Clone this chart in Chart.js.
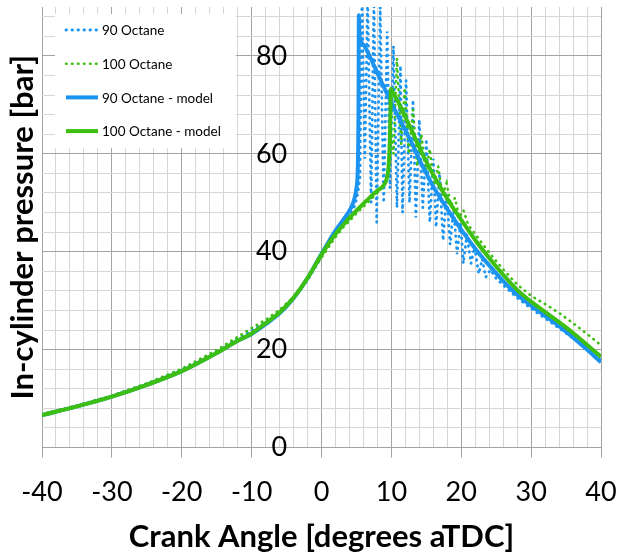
<!DOCTYPE html>
<html>
<head>
<meta charset="utf-8">
<script src="https://cdn.jsdelivr.net/npm/chart.js@4.4.1/dist/chart.umd.min.js"></script>
<style>
    body { margin: 0; background: #fff; }
    #wrap { width: 620px; height: 560px; }
</style>
</head>
<body>
<div id="wrap"><canvas id="PressureChart" width="620" height="560"></canvas></div>
<script>
// crank angle [deg aTDC] / pressure [bar]
var CrankModel90 = [-40,-35,-30,-25,-20,-15,-12,-10,-8,-6,-4,-2,0,1,2,3,4,4.6,5.0,5.2,5.3,5.35,5.45,6,7,8,9,10,11,12,13,14,15,16,17,18,19,20,22,24,26,28,30,32,34,36,38,40];
var PressModel90 = [6.6,8.4,10.4,12.8,15.6,19.3,21.8,23.2,25.2,27.4,30.5,34.6,39.6,42,44.3,46.3,48.4,50.3,53,57.5,70,88.3,84,82.3,79.6,76.5,73.4,70.4,67.6,64.8,62,58.8,56,53.3,51,48.7,46.6,44.5,40.6,37.2,34,31.2,29,26.9,24.8,22.5,20,17.4];

var CrankModel100 = [-40,-35,-30,-25,-20,-15,-12,-10,-8,-6,-4,-2,0,1,2,3,4,5,6,7,8,8.8,9.3,9.6,9.8,9.95,10.2,11,12,13,14,15,16,17,18,19,20,22,24,26,28,30,32,34,36,38,40];
var PressModel100 = [6.6,8.4,10.4,12.8,15.6,19.3,21.8,23.3,25.4,27.6,30.6,34.6,39.4,41.6,43.6,45.3,46.9,48.4,49.8,51.2,52.5,53.4,54.8,57.5,63.5,73.3,72.6,70.5,67.5,64.5,61.3,58.4,55.7,53.2,50.8,48.6,46.5,42.4,38.7,35.3,32.2,29.8,27.7,25.6,23.4,21,18.5];

var CrankExp90 = [-40,-35,-30,-25,-20,-15,-12,-10,-8,-6,-4,-2,0,1,2,3,4,4.8,5.2,5.5,5.8,6.2,6.6,7.1,7.5,7.9,8.4,8.9,9.4,9.8,10.3,10.8,11.3,11.6,12.1,12.6,13.1,13.5,14.0,14.5,15.0,15.5,16.0,16.4,16.9,17.4,17.9,18.4,18.9,19.4,19.9,20.3,20.8,21.4,21.9,22.5,23.0,23.5,24.2,25,26,28,30,32,34,36,38,40];
var PressExp90 = [6.7,8.5,10.5,13,15.9,19.6,22.2,23.8,25.6,27.8,30.6,34.2,39,41.5,43.8,45.6,47.5,49.5,52,55,92,59,92,50,92,46,90,50,85,53,82,49,78,48,75,50,71,47,67,49,63,46,59,45,56,42.3,52,41.5,49,39.5,46,37.6,43.5,37.6,41,35.5,38.5,34.8,36.3,34.5,33.2,30.6,28.4,26.4,24.4,22.3,20.1,17.8];

var CrankExp100 = [-40,-35,-30,-25,-20,-15,-12,-10,-8,-6,-4,-2,0,2,3,4,5,6,7,8,8.8,9.2,9.6,9.9,10.3,10.8,11.4,11.9,12.5,13.1,13.7,14.3,14.9,15.5,16.1,16.7,17.3,17.9,18.5,19.1,19.7,20.3,21,22,24,26,28,30,32,34,36,38,40];
var PressExp100 = [6.8,8.6,10.6,13.1,16.1,19.9,22.6,24.4,26.1,28.1,30.8,34.5,38.8,43,44.8,46.3,47.8,49.2,50.6,52,53.3,54.5,57,66,60,79.5,62,73.5,60,69,57.5,64,56,61,53.5,57.5,51.5,54,49.5,51,47,48.5,45.5,43.6,39.8,36.4,33.3,31,29.3,27.5,25.4,23.2,20.9];

var SeriesLabels = ['90 Octane', '100 Octane', '90 Octane - model', '100 Octane - model'];

var Blue = '#1b93f1';
var Green = '#3dbf12';
var GridMinor = '#d6d6d6';
var GridMajor = '#a3a3a3';
var FontName = 'Lato, Carlito, "Open Sans", sans-serif';

function toPoints(xs, ys) {
    var pts = [];
    for (var i = 0; i < xs.length; i++) {
        pts.push({ x: xs[i], y: ys[i] });
    }
    return pts;
}

// white box legend in the upper left corner of the plot
var boxLegend = {
    id: 'boxLegend',
    afterDraw(chart) {
        var ctx = chart.ctx;
        var area = chart.chartArea;
        var left = area.left + 13;
        var top = area.top + 7;
        ctx.save();
        ctx.fillStyle = '#fff';
        ctx.fillRect(left, top, 181, 134);
        chart.data.datasets.forEach(function (ds, i) {
            var y = top + 16 + i * 33.7;
            ctx.beginPath();
            ctx.strokeStyle = ds.borderColor;
            ctx.lineWidth = ds.borderWidth;
            ctx.lineCap = ds.borderCapStyle || 'butt';
            ctx.setLineDash(ds.borderDash || []);
            ctx.moveTo(left + 11, y);
            ctx.lineTo(left + 43, y);
            ctx.stroke();
            ctx.setLineDash([]);
            ctx.fillStyle = '#000';
            ctx.font = '13.5px ' + FontName;
            ctx.textBaseline = 'middle';
            ctx.textAlign = 'left';
            ctx.fillText(ds.label, left + 47, y + 1);
        });
        ctx.restore();
    }
};

// y axis title sits at the far left, away from the centred axis
var yTitle = {
    id: 'yTitle',
    afterDraw(chart) {
        var ctx = chart.ctx;
        var area = chart.chartArea;
        ctx.save();
        ctx.translate(23, (area.top + area.bottom) / 2);
        ctx.rotate(-Math.PI / 2);
        ctx.fillStyle = '#000';
        ctx.font = 'bold 31px ' + FontName;
        ctx.textAlign = 'center';
        ctx.textBaseline = 'middle';
        ctx.fillText('In-cylinder pressure [bar]', 0, 0);
        ctx.restore();
    }
};

var ChartData = {
    datasets: [{
        label: SeriesLabels[0],
        data: toPoints(CrankExp90, PressExp90),
        borderColor: Blue,
        borderWidth: 2.8,
        borderDash: [0.5, 5.5],
        borderCapStyle: 'round',
        tension: 0,
        order: 3
    }, {
        label: SeriesLabels[1],
        data: toPoints(CrankExp100, PressExp100),
        borderColor: Green,
        borderWidth: 2.6,
        borderDash: [0.5, 5.5],
        borderCapStyle: 'round',
        tension: 0,
        order: 2
    }, {
        label: SeriesLabels[2],
        data: toPoints(CrankModel90, PressModel90),
        borderColor: Blue,
        borderWidth: 4,
        cubicInterpolationMode: 'monotone',
        order: 1
    }, {
        label: SeriesLabels[3],
        data: toPoints(CrankModel100, PressModel100),
        borderColor: Green,
        borderWidth: 4,
        cubicInterpolationMode: 'monotone',
        order: 0
    }]
};

var PressureChart = new Chart(document.getElementById('PressureChart'), {
    type: 'line',
    data: ChartData,
    options: {
        responsive: false,
        animation: false,
        devicePixelRatio: 1,
        elements: { point: { radius: 0 } },
        layout: { padding: { left: 42, right: 19, top: 7, bottom: 0 } },
        plugins: {
            legend: { display: false },
            tooltip: { enabled: false }
        },
        scales: {
            x: {
                type: 'linear',
                min: -40,
                max: 40,
                afterFit: function (scale) {
                    // keep the plot box where the original has it
                    scale.height = 112.5;
                    scale.paddingLeft = 0;
                    scale.paddingRight = 0;
                },
                ticks: {
                    stepSize: 2,
                    autoSkip: false,
                    maxRotation: 0,
                    minRotation: 0,
                    padding: 19,
                    color: '#000',
                    font: { family: FontName, size: 27 },
                    callback: function (v) { return v % 10 === 0 ? v : ''; }
                },
                grid: {
                    color: function (c) { return c.tick && c.tick.value % 10 === 0 ? GridMajor : GridMinor; },
                    tickColor: function (c) { return c.tick && c.tick.value % 10 === 0 ? GridMajor : 'rgba(0,0,0,0)'; },
                    tickLength: 10
                },
                border: { display: false },
                title: {
                    display: true,
                    text: 'Crank Angle [degrees aTDC]',
                    color: '#000',
                    font: { family: FontName, size: 31, weight: 'bold' },
                    padding: { top: 8, bottom: 4 }
                }
            },
            y: {
                type: 'linear',
                // axis labels sit a little left of the 0 deg line
                position: { x: -4.9 },
                min: 0,
                max: 90,
                afterFit: function (scale) {
                    scale.paddingTop = 0;
                    scale.paddingBottom = 0;
                },
                ticks: {
                    stepSize: 4,
                    includeBounds: false,
                    autoSkip: false,
                    color: '#000',
                    font: { family: FontName, size: 27 },
                    callback: function (v) { return v % 20 === 0 ? v : ''; }
                },
                grid: {
                    color: function (c) {
                        if (!c.tick) return GridMinor;
                        var v = c.tick.value;
                        if (v % 20 === 0) return GridMajor;
                        return v % 4 === 0 ? GridMinor : 'rgba(0,0,0,0)';
                    },
                    tickColor: 'rgba(0,0,0,0)',
                    tickLength: 33
                },
                border: { display: false }
            }
        }
    },
    plugins: [boxLegend, yTitle]
});
</script>
</body>
</html>
